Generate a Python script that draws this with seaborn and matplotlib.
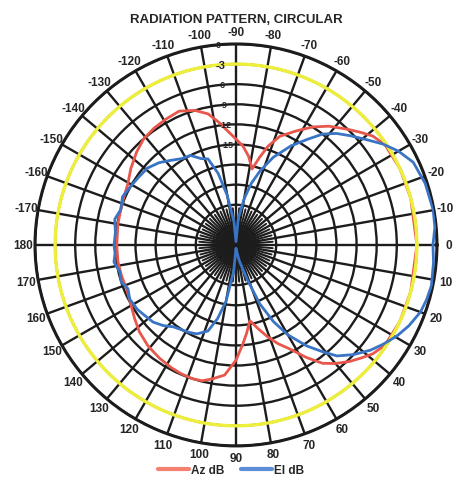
import numpy as np
import pandas as pd
import seaborn as sns
import matplotlib
matplotlib.use("Agg")
import matplotlib.pyplot as plt

# Az dB (red) - angle in degrees as labelled on the chart, level in dB
az_angle = [-180, -170, -163, -157, -151, -144, -137, -131, -125, -119, -113, -107,
            -102, -98, -94, -90, -86, -82, -78, -75, -72, -68, -62, -57, -52, -46,
            -42, -38.5, -34, -25, -15, 0, 15, 25, 34, 38.5, 42, 45.7, 50, 53.8, 58,
            62.6, 67, 71, 75, 79.6, 83, 86, 90, 95, 100, 104, 108, 113, 118, 124,
            131, 138, 144, 151, 158, 165, 172, 180]
az_db = [-12.2, -12.1, -12.0, -11.8, -11.5, -10.6, -9.7, -9.0, -8.7, -8.5, -8.3, -9.0,
         -10.0, -11.5, -13.0, -14.2, -15.2, -16.6, -18.4, -16.5, -14.5, -12.5, -10.7,
         -9.0, -7.5, -6.0, -4.9, -3.9, -3.2, -3.0, -3.0, -3.0, -3.0, -3.0, -3.2, -3.9,
         -4.8, -5.7, -6.9, -8.1, -10.2, -12.5, -14.0, -15.5, -17.0, -18.5, -16.8,
         -15.2, -12.8, -10.5, -9.7, -9.1, -9.0, -9.1, -9.3, -9.6, -10.0, -10.6, -11.3,
         -12.0, -12.4, -12.3, -12.2, -12.2]

# El dB (blue)
el_angle = [-180, -174, -168, -163, -157, -151, -145, -139, -133, -128, -122, -117,
            -112, -108, -104, -100, -95, -90, -85, -80, -76, -72, -67, -61, -56, -52,
            -48, -43.7, -39, -34.5, -30, -25, -18, -10, -5, 0, 5, 11.8, 16, 20, 25,
            29.5, 34, 38, 43, 47.7, 51, 55, 60, 64, 68, 72, 78, 84, 90, 95, 100, 104,
            108, 113.7, 118, 122, 127.5, 132, 137, 142, 147, 153, 158, 162, 167, 172,
            176, 180]
el_db = [-11.8, -11.9, -11.5, -12.0, -11.6, -12.0, -12.3, -12.5, -13.2, -14.0, -14.8,
         -15.0, -16.1, -16.5, -19.0, -22.5, -26.5, -29.5, -26.0, -23.0, -20.5, -18.4,
         -15.8, -13.1, -11.0, -9.0, -7.6, -6.4, -5.0, -3.4, -2.0, -0.8, -0.3, -0.1,
         -0.2, -0.6, -0.4, -0.2, -0.4, -0.7, -1.5, -2.4, -3.5, -4.5, -6.0, -7.6, -9.5,
         -11.6, -14.5, -17.3, -20.5, -24.6, -27.5, -29.0, -29.5, -26.0, -21.5, -18.7,
         -16.5, -15.5, -15.2, -15.0, -14.6, -13.8, -13.1, -12.8, -12.4, -12.2, -12.6,
         -12.0, -12.2, -11.6, -11.9, -11.8]

ring_db = [-27, -24, -21, -18, -15, -12, -9, -6, -3, 0]
spoke_deg = list(range(0, 360, 10))
spoke_labels = [str(d if d <= 180 else d - 360) for d in spoke_deg]
ref_level = -3

sns.set_style("white")
plt.rcParams['font.family'] = ['Liberation Sans', 'DejaVu Sans']

fig = plt.figure(figsize=(4.62, 4.85), dpi=100)
ax = fig.add_axes([0.0758, 0.0784, 0.870, 0.829], projection='polar')
ax.set_theta_zero_location('E')
ax.set_theta_direction(-1)
ax.set_ylim(-30, 0)

grid_col = '#1c1c1c'
ax.set_thetagrids(spoke_deg, spoke_labels, fontsize=8.5, fontweight='bold')
ax.set_rgrids(ring_db, [''] * len(ring_db))
ax.grid(True, color=grid_col, linewidth=1.7)
ax.spines['polar'].set_color(grid_col)
ax.spines['polar'].set_linewidth(2.2)
ax.tick_params(axis='x', pad=-2)

# extra short spokes near the centre
for d in range(5, 360, 10):
    t = np.deg2rad(d)
    ax.plot([t, t], [-30, -24.5], color=grid_col, lw=1.4, zorder=1)

# radial labels along the -90 spoke
for v in [0, -3, -6, -9, -12, -15]:
    ax.text(np.deg2rad(265), v, str(v), fontsize=6.5 if v != -3 else 8,
            fontweight='bold', color='#222222', ha='center', va='center', zorder=5)

az = pd.DataFrame({'theta': np.deg2rad(az_angle), 'db': az_db})
el = pd.DataFrame({'theta': np.deg2rad(el_angle), 'db': el_db})

sns.lineplot(data=az, x='theta', y='db', ax=ax, sort=False, estimator=None,
             color='#e8574c', lw=2.0, label='Az dB', zorder=3)
ring_t = np.linspace(0, 2 * np.pi, 361)
ax.plot(ring_t, np.full_like(ring_t, ref_level), color='#eeee3c', lw=2.4, zorder=4)
sns.lineplot(data=el, x='theta', y='db', ax=ax, sort=False, estimator=None,
             color='#3a74c4', lw=2.0, label='El dB', zorder=5)

ax.set_xlabel('')
ax.set_ylabel('')
ax.legend_.remove()
handles, labels = ax.get_legend_handles_labels()
leg = fig.legend(handles, labels, loc='lower center', ncol=2, frameon=False,
                 bbox_to_anchor=(0.5, -0.005), prop={'weight': 'bold', 'size': 8.5},
                 handlelength=2.6, handletextpad=0.2, columnspacing=1.4)
for h, c in zip(leg.legend_handles, ['#f4806f', '#5b8ed6']):
    h.set_color(c)
    h.set_linewidth(3)

fig.suptitle('RADIATION PATTERN, CIRCULAR', x=0.512, y=0.972, fontsize=9.5,
             fontweight='bold')

fig.savefig('out.png', dpi=100)
